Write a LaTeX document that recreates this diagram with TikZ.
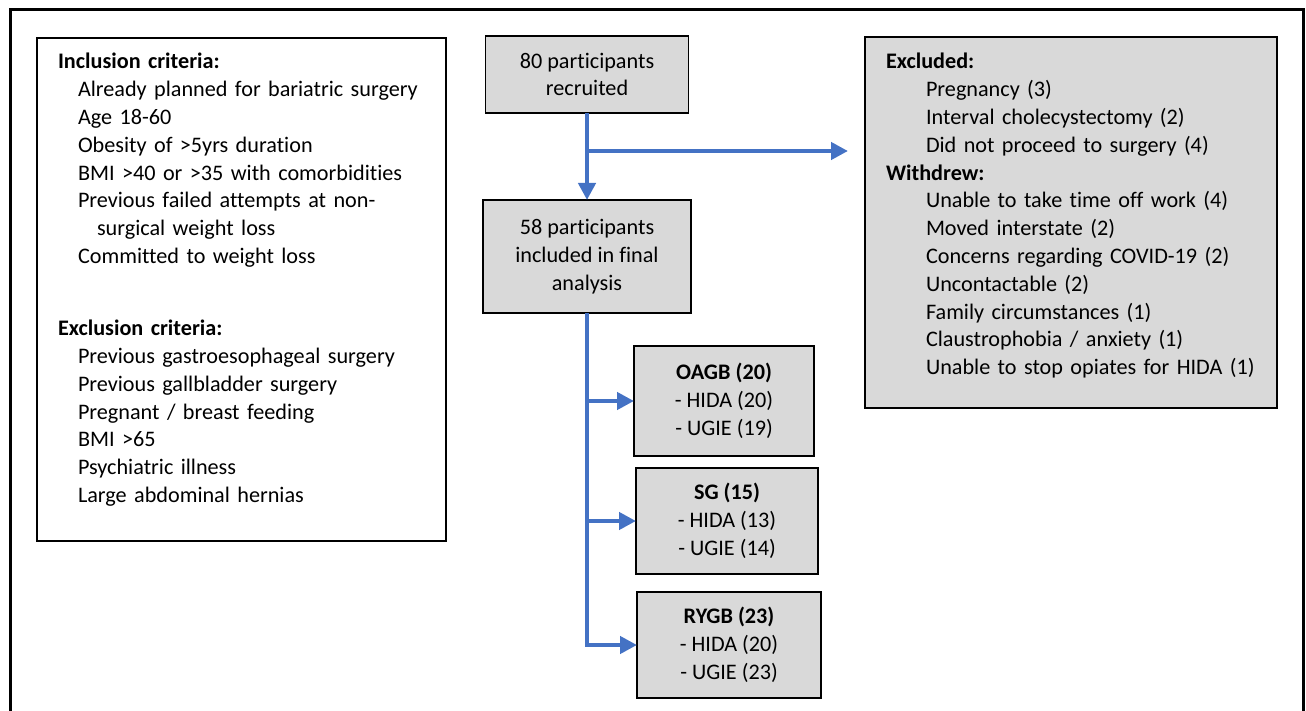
\documentclass[tikz,border=0pt]{standalone}
\usepackage{fontspec}
\setmainfont{Carlito}[Ligatures={NoCommon}]
\usetikzlibrary{arrows.meta}
\definecolor{flowblue}{HTML}{4472C4}
\definecolor{boxgray}{HTML}{D9D9D9}
\newcommand{\critline}[2]{\hspace*{#1}\mbox{#2}}

\begin{document}
\begin{tikzpicture}[x=1pt, y=-1pt,
  every node/.style={font=\fontsize{22.2}{27.8}\selectfont},
  listbox/.style={draw=black, line width=1.4pt, outer sep=0pt, anchor=north west,
    align=left, inner xsep=21pt, inner ysep=0pt},
  stepbox/.style={draw=black, line width=1.4pt, outer sep=0pt, fill=boxgray,
    align=center, inner sep=0pt},
  flowline/.style={draw=flowblue, line width=4.5pt, -{Triangle[length=17pt, width=17pt]}}
]

  % Page size
  \useasboundingbox (0,0) rectangle (1306,711);

  % Outer frame (open at the bottom)
  \draw[line width=3pt] (10,711) -- (10,10) -- (1303.5,10) -- (1303.5,711);

  % Criteria box
  \node[listbox, text width=367pt, text height=31pt, text depth=472pt] (crit) at (37,38) {%
    \textbf{Inclusion criteria:}\\
    \critline{20pt}{Already planned for bariatric surgery}\\
    \critline{20pt}{Age 18-60}\\
    \critline{20pt}{Obesity of >5yrs duration}\\
    \critline{20pt}{BMI >40 or >35 with comorbidities}\\
    \critline{20pt}{Previous failed attempts at non-}\\
    \critline{39pt}{surgical weight loss}\\
    \critline{20pt}{Committed to weight loss}\\[44.3pt]
    \textbf{Exclusion criteria:}\\
    \critline{20pt}{Previous gastroesophageal surgery}\\
    \critline{20pt}{Previous gallbladder surgery}\\
    \critline{20pt}{Pregnant / breast feeding}\\
    \critline{20pt}{BMI >65}\\
    \critline{20pt}{Psychiatric illness}\\
    \critline{20pt}{Large abdominal hernias}};

  % Excluded / withdrew box
  \node[listbox, fill=boxgray, text width=370pt, text height=32pt, text depth=339pt] (excl) at (865,37) {%
    \textbf{Excluded:}\\
    \critline{40pt}{Pregnancy (3)}\\
    \critline{40pt}{Interval cholecystectomy (2)}\\
    \critline{40pt}{Did not proceed to surgery (4)}\\
    \textbf{Withdrew:}\\
    \critline{40pt}{Unable to take time off work (4)}\\
    \critline{40pt}{Moved interstate (2)}\\
    \critline{40pt}{Concerns regarding COVID-19 (2)}\\
    \critline{40pt}{Uncontactable (2)}\\
    \critline{40pt}{Family circumstances (1)}\\
    \critline{40pt}{Claustrophobia / anxiety (1)}\\
    \critline{40pt}{Unable to stop opiates for HIDA (1)}};

  % Flow boxes
  \node[stepbox, minimum width=203pt, minimum height=77pt] (rec) at (587,74.5) {80 participants\\recruited};
  \node[stepbox, minimum width=208pt, minimum height=113pt] (ana) at (587,256.5) {58 participants\\included in final\\analysis};
  \node[stepbox, minimum width=180pt, minimum height=110pt] (oagb) at (724,401) {\textbf{OAGB (20)}\\- HIDA (20)\\- UGIE (19)};
  \node[stepbox, minimum width=182pt, minimum height=106pt] (sg) at (727,521) {\textbf{SG (15)}\\- HIDA (13)\\- UGIE (14)};
  \node[stepbox, minimum width=184pt, minimum height=106pt] (rygb) at (729,645) {\textbf{RYGB (23)}\\- HIDA (20)\\- UGIE (23)};

  % Arrows
  \coordinate (split) at (587,151);
  \draw[flowline] (rec.south) -- (rec.south |- ana.north);
  \draw[flowline, shorten >=17pt] (split) -- (split -| excl.west);
  \draw[flowline] (ana.south) |- (rygb.west);
  \draw[flowline] (ana.south |- oagb.west) -- (oagb.west);
  \draw[flowline] (ana.south |- sg.west) -- (sg.west);
\end{tikzpicture}
\end{document}
